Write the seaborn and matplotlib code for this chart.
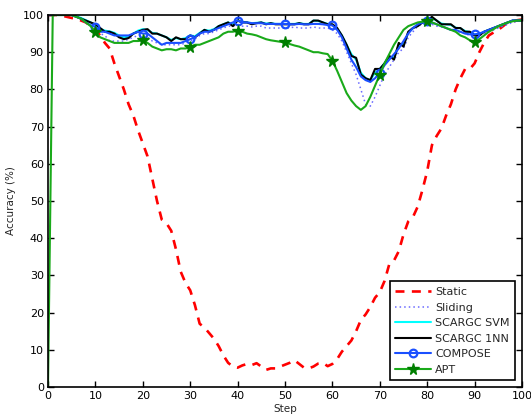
import numpy as np
import pandas as pd
import matplotlib
matplotlib.use("Agg")
import matplotlib.pyplot as plt
import seaborn as sns

steps = list(range(0, 101))

static = [100, 100, 100, 99.8, 99.5, 99.2, 99, 98.5, 98, 97,
          96, 94.5, 92.5, 91, 87, 83.5, 80, 76, 73, 69,
          65.5, 62, 56, 50, 45, 44, 42, 37, 31, 28,
          26, 22, 17, 16, 14.5, 13, 11, 8.5, 6.5, 5.5,
          5.2, 5.8, 6.2, 5.9, 6.4, 5.5, 4.6, 5.0, 5.0, 5.5,
          6.0, 6.5, 7.2, 6.2, 5.2, 5.0, 5.5, 6.3, 6.5, 5.6,
          6.2, 7.5, 9.5, 11, 12.5, 15, 18, 19.5, 21.5, 24,
          25.5, 28.5, 33, 34, 36.5, 41, 44.5, 45.7, 48.5, 53,
          58, 65, 67.5, 69.5, 73, 76, 80, 83, 85.5, 85.5,
          87, 90, 92.5, 94.5, 95.3, 96, 97, 98, 98.2, 98.6,
          98.8]

sliding = [100, 100, 100, 100, 100, 100, 99.5, 99, 98, 97,
           96, 95, 94.5, 93, 93, 93, 93, 93.5, 94, 94.5,
           94.5, 94, 93, 92.5, 92, 92, 92, 92, 92, 92.5,
           93, 93.5, 94.5, 95, 95, 95.5, 96, 96.5, 97, 97,
           97.5, 97, 97, 96.8, 97, 97, 96.5, 96.5, 96.5, 96.5,
           96.5, 96.5, 96.8, 96.5, 96.5, 96.5, 96.8, 96.5, 96.5, 96.5,
           96, 95, 93, 90, 87, 84, 80, 76, 75.5, 78,
           81, 84, 86, 88, 90, 91, 94, 95.5, 97, 97.5,
           98, 97.5, 97, 96.8, 96.5, 96, 95.8, 95.3, 95, 94.5,
           94, 94.5, 95, 95.5, 96, 96.5, 97, 97.5, 98, 98.3,
           98.5]

scargc_svm = [100, 100, 100, 100, 100, 100, 99.6, 99.2, 98.6, 98,
              97.3, 96.3, 95.8, 95.6, 95.2, 94.5, 94, 94.2, 95, 95.8,
              96.2, 96, 95.2, 95, 94.5, 94, 93.3, 93.8, 93.5, 93.8,
              94.5, 94.3, 95.2, 96, 95.8, 96.2, 97, 97.5, 98, 97.6,
              98.5, 98.2, 98, 97.8, 97.9, 98, 97.7, 97.8, 97.6, 97.6,
              97.6, 97.6, 97.6, 97.8, 97.6, 97.6, 98.5, 98.4, 98, 97.6,
              97.4, 96.4, 94.5, 92, 89.5, 88, 84.5, 83, 82.5, 84.5,
              85.5, 87, 88.8, 88.5, 92, 92, 95.3, 96.5, 97.2, 98,
              98.6, 99.2, 98.5, 97.7, 97.5, 97.3, 96.6, 96.4, 95.7, 95.4,
              94.8, 94.8, 95.5, 96, 96.5, 97, 97.5, 98, 98.5, 98.5,
              98.6]

scargc_1nn = [100, 100, 100, 100, 100, 100, 99.5, 99, 98.5, 98,
              97.5, 96.5, 95.5, 95.5, 95, 94, 93.5, 93.8, 95, 95.5,
              96, 96.2, 95, 95, 94.5, 94, 93, 94, 93.5, 93.5,
              94.5, 94, 95, 96, 95.5, 96, 97, 97.5, 98, 97,
              98.5, 98, 98, 97.5, 97.8, 98, 97.5, 97.8, 97.5, 97.5,
              97.5, 97.5, 97.5, 97.8, 97.5, 97.5, 98.5, 98.5, 98, 97.5,
              97.5, 96.5, 94.5, 92, 89, 88.5, 84, 83, 82.5, 85.5,
              85.5, 87, 89, 88, 92.5, 91.5, 95.5, 96.5, 97, 98,
              98.5, 99.5, 98.5, 97.5, 97.5, 97.5, 96.5, 96.5, 95.5, 95.5,
              94.5, 94.5, 95.5, 96, 96.5, 97, 97.5, 98, 98.5, 98.5,
              98.5]

compose = [100, 100, 100, 100, 100, 100, 99.5, 99, 98, 97.2,
           96.8, 95.5, 95.5, 95, 94.5, 94.5, 94.5, 94.5, 95, 95.5,
           95, 95, 94, 93, 92, 92.5, 92.5, 92.5, 92.5, 93,
           93.5, 94, 95, 95.5, 95.5, 96, 96.5, 97, 97.5, 98,
           98.5, 98, 98, 97.8, 97.8, 97.8, 97.6, 97.6, 97.6, 97.6,
           97.6, 97.5, 97.5, 97.6, 97.5, 97.5, 97.6, 97.6, 97.5, 97.3,
           97.2, 96, 94, 91, 88, 86, 83.5, 82.5, 82, 83,
           84.5, 86.5, 88, 89.5, 91, 93, 95, 96.5, 97.5, 98,
           98.5, 98, 97.5, 97, 96.5, 96, 96, 95.5, 95, 94.8,
           94.8, 95, 95.5, 96, 96.5, 97, 97.5, 98, 98.5, 98.5,
           98.5]

apt = [0, 100, 100, 100, 100, 100, 99.5, 99, 98, 97,
       95.5, 94, 93.5, 93, 92.5, 92.5, 92.5, 92.5, 93, 93,
       93.2, 92.5, 91.5, 91, 90.5, 90.8, 90.8, 90.5, 91, 91,
       91.3, 92, 92, 92.5, 93, 93.5, 94, 95, 95.5, 95.5,
       95.8, 95.5, 95, 94.8, 94.5, 94, 93.5, 93.2, 93, 92.8,
       92.7, 92.2, 91.8, 91.5, 91, 90.5, 90, 90, 89.7, 89.5,
       87.7, 85, 82, 79, 77, 75.5, 74.5, 75.5, 78, 81,
       84, 87, 89.5, 92, 94, 96, 97, 97.5, 98, 98.2,
       98.3, 98, 97.5, 97, 96.5, 96, 95.5, 94.5, 94, 93.2,
       92.7, 93.5, 94.5, 95.5, 96.2, 97, 97.5, 98, 98.3, 98.5,
       98.5]

sns.set_style("ticks")
plt.rcParams.update({
    "font.family": ["DejaVu Sans"],
    "xtick.direction": "in",
    "ytick.direction": "in",
    "xtick.top": True,
    "ytick.right": True,
    "axes.edgecolor": "black",
    "axes.linewidth": 1.2,
})

fig = plt.figure(figsize=(5.31, 4.15), dpi=100)
ax = fig.add_axes([48 / 531, 1 - 387 / 415, (522 - 48) / 531, (387 - 15) / 415])

x = np.array(steps)
marks = list(range(10, 100, 10))
sns.lineplot(x=x, y=static, ax=ax, color="#ff0000", linestyle=(0, (3.4, 2.8)), lw=1.9,
             label="Static", estimator=None)
sns.lineplot(x=x, y=sliding, ax=ax, color="#6a6aff", linestyle=(0, (1, 2)), lw=1.1,
             label="Sliding", estimator=None)
sns.lineplot(x=x, y=scargc_svm, ax=ax, color="#00ffff", lw=1.5,
             label="SCARGC SVM", estimator=None)
sns.lineplot(x=x, y=scargc_1nn, ax=ax, color="black", lw=1.5,
             label="SCARGC 1NN", estimator=None)
sns.lineplot(x=x, y=compose, ax=ax, color="#1a4fff", lw=1.5, marker="o",
             markersize=5.5, markerfacecolor="none", markeredgecolor="#1a4fff",
             markeredgewidth=1.6, markevery=marks,
             label="COMPOSE", estimator=None)
sns.lineplot(x=x, y=apt, ax=ax, color="#1aaa1a", lw=1.5, marker="*",
             markersize=8.5, markerfacecolor="#007f00", markeredgecolor="#007f00",
             markeredgewidth=1.0, markevery=marks,
             label="APT", estimator=None)

ax.set_xlim(0, 100)
ax.set_ylim(0, 100)
ax.set_xticks(range(0, 101, 10))
ax.set_yticks(range(0, 101, 10))
ax.tick_params(labelsize=8, length=4, width=1, pad=3, colors="black")
ax.set_xlabel("Step", fontsize=7.5, labelpad=2)
ax.set_ylabel("Accuracy (%)", fontsize=7.5, labelpad=5)

leg = ax.legend(loc="lower right", fontsize=8, frameon=True, fancybox=False,
                borderaxespad=0.6, handlelength=3.2, labelspacing=0.5,
                borderpad=0.5, handletextpad=0.4)
leg.get_frame().set_edgecolor("black")
leg.get_frame().set_linewidth(1.2)
leg.get_frame().set_alpha(1)

fig.savefig("out.png", dpi=100)
